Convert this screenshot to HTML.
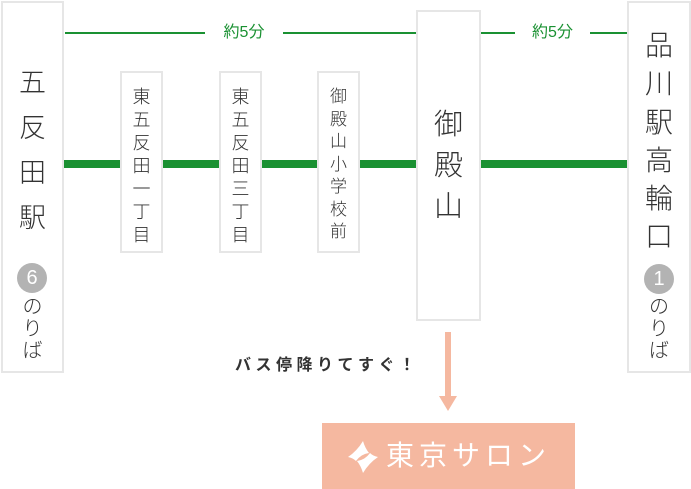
<!DOCTYPE html>
<html><head><meta charset="utf-8">
<style>
body{margin:0;width:691px;height:489px;background:#fff;position:relative;overflow:hidden;font-family:"Liberation Sans","Noto Sans CJK JP",sans-serif;color:#333}
.a{position:absolute}
.box{position:absolute;border:2px solid #e6e6e6;box-sizing:border-box;background:#fff}
.v{position:absolute;text-align:center;line-height:1;font-weight:300}
.g{background:#1a9132;position:absolute}
.c{position:absolute;border-radius:50%;background:#b3b3b3;color:#fff;text-align:center;font-size:20px}
</style></head><body>
<div class="g" style="left:65px;top:32px;width:140px;height:2px"></div>
<div class="g" style="left:283px;top:32px;width:133px;height:2px"></div>
<div class="g" style="left:480px;top:32px;width:35px;height:2px"></div>
<div class="g" style="left:590px;top:32px;width:37px;height:2px"></div>
<div class="a" style="left:205px;top:23px;width:78px;text-align:center;color:#1a9132;font-size:16px;line-height:20px">約5分</div>
<div class="a" style="left:515px;top:23px;width:75px;text-align:center;color:#1a9132;font-size:16px;line-height:20px">約5分</div>
<div class="g" style="left:63px;top:160px;width:564px;height:8px"></div>

<div class="box" style="left:1px;top:1px;width:63px;height:372px"></div>
<div class="v" style="left:1px;top:61px;width:63px;font-size:27px;line-height:45px">五<br>反<br>田<br>駅</div>
<div class="c" style="left:17px;top:263px;width:30px;height:30px;line-height:30px">6</div>
<div class="v" style="left:1px;top:296px;width:63px;font-size:20px;line-height:22px">の<br>り<br>ば</div>

<div class="box" style="left:120px;top:71px;width:43px;height:182px"></div>
<div class="v" style="left:120px;top:86px;width:43px;font-size:18px;line-height:23px">東<br>五<br>反<br>田<br>一<br>丁<br>目</div>
<div class="box" style="left:219px;top:71px;width:43px;height:182px"></div>
<div class="v" style="left:219px;top:86px;width:43px;font-size:18px;line-height:23px">東<br>五<br>反<br>田<br>三<br>丁<br>目</div>
<div class="box" style="left:317px;top:71px;width:43px;height:182px"></div>
<div class="v" style="left:317px;top:86px;width:43px;font-size:17px;line-height:22.5px">御<br>殿<br>山<br>小<br>学<br>校<br>前</div>

<div class="box" style="left:416px;top:10px;width:65px;height:311px"></div>
<div class="v" style="left:416px;top:105px;width:65px;font-size:29px;line-height:41px">御<br>殿<br>山</div>

<div class="box" style="left:627px;top:1px;width:64px;height:372px"></div>
<div class="v" style="left:627px;top:27px;width:64px;font-size:28px;line-height:38.3px">品<br>川<br>駅<br>高<br>輪<br>口</div>
<div class="c" style="left:644px;top:264px;width:30px;height:30px;line-height:30px">1</div>
<div class="v" style="left:627px;top:296px;width:64px;font-size:20px;line-height:22px">の<br>り<br>ば</div>

<div class="a" style="left:235px;top:355px;font-size:16px;font-weight:bold;letter-spacing:4.5px;line-height:22px;color:#333;white-space:nowrap">バス停降りてすぐ！</div>
<div class="a" style="left:445px;top:332px;width:6px;height:66px;background:#f5b8a0"></div>
<svg class="a" style="left:439px;top:396px" width="18" height="15"><polygon points="0,0 18,0 9,15" fill="#f5b8a0"/></svg>
<div class="a" style="left:322px;top:423px;width:253px;height:66px;background:#f5b8a0"></div>
<svg class="a" style="left:345px;top:439px" width="36" height="36" viewBox="0 0 36 36">
<path d="M18 2 Q12 12 3 18 Q8 19 11 22 Q16 15 24 14 Q20 9 18 2Z" fill="#fff"/>
<path d="M18 34 Q24 24 33 18 Q28 17 25 14 Q20 21 12 22 Q16 27 18 34Z" fill="#fff"/>
</svg>
<div class="a" style="left:386px;top:438px;font-size:28px;color:#fff;letter-spacing:5px;line-height:36px;white-space:nowrap">東京サロン</div>
</body></html>
